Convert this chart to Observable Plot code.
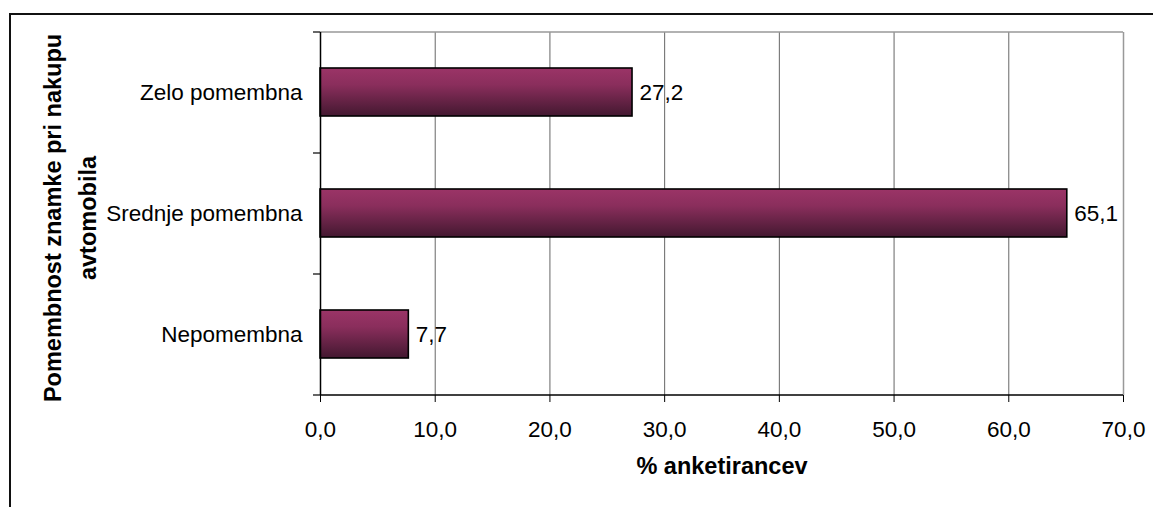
<!DOCTYPE html>
<html>
<head>
<meta charset="utf-8">
<script src="https://cdn.jsdelivr.net/npm/d3@7"></script>
<script src="https://cdn.jsdelivr.net/npm/@observablehq/plot@0.6"></script>
<style>
  html, body { margin: 0; padding: 0; background: #fff; }
  #wrap { position: relative; width: 1153px; height: 507px; overflow: hidden; }
  #border { position: absolute; left: 9px; top: 13px; right: -4px; bottom: -4px;
            border-top: 2px solid #111; border-left: 2px solid #111; pointer-events: none; }
  #chart svg { display: block; }
</style>
</head>
<body>
<div id="wrap"><div id="chart"></div><div id="border"></div></div>
<script>
// Importance of the car brand when buying a car (% of respondents)
const categories = ["Zelo pomembna", "Srednje pomembna", "Nepomembna"];
const values = [27.2, 65.1, 7.7];
const xTicks = [0, 10, 20, 30, 40, 50, 60, 70];
const gridTicks = [10, 20, 30, 40, 50, 60];
const yTitle = "Pomembnost znamke pri nakupu\navtomobila";
const xTitle = "% anketirancev";

const rows = categories.map((category, i) => ({category, value: values[i]}));
const fmt = (v) => v.toFixed(1).replace(".", ",");

const W = 1153, H = 507;
const mTop = 32, mRight = 30, mBottom = 112, mLeft = 320;
const step = (H - mTop - mBottom) / categories.length;
const tickLen = 7 * 70 / (W - mLeft - mRight); // 7px expressed in x units

// vertical gradient used for the bars
const gradientDefs = () => {
  const ns = "http://www.w3.org/2000/svg";
  const defs = document.createElementNS(ns, "defs");
  const lg = document.createElementNS(ns, "linearGradient");
  lg.setAttribute("id", "barFill");
  lg.setAttribute("x1", "0"); lg.setAttribute("y1", "0");
  lg.setAttribute("x2", "0"); lg.setAttribute("y2", "1");
  [[0, "#9b3467"], [0.35, "#8a2e5c"], [1, "#431830"]].forEach(([o, c]) => {
    const s = document.createElementNS(ns, "stop");
    s.setAttribute("offset", o);
    s.setAttribute("stop-color", c);
    lg.appendChild(s);
  });
  defs.appendChild(lg);
  return defs;
};

const chart = Plot.plot({
  width: W,
  height: H,
  marginTop: mTop,
  marginRight: mRight,
  marginBottom: mBottom,
  marginLeft: mLeft,
  style: {fontFamily: "Arial, 'Liberation Sans', sans-serif", fontSize: "22.5px", color: "#000", background: "transparent", overflow: "visible"},
  x: {domain: [0, 70], ticks: xTicks, tickFormat: fmt, tickSize: 7, tickPadding: 19, label: null},
  y: {domain: categories, paddingInner: 0.6, paddingOuter: 0.3, tickSize: 0, tickPadding: 18, label: null},
  marks: [
    gradientDefs,
    // grid
    Plot.ruleX(gridTicks, {stroke: "#666", strokeWidth: 1}),
    Plot.ruleX([70], {stroke: "#999", strokeWidth: 1.5}),
    Plot.ruleY([categories[0]], {x1: 0, x2: 70, dy: -step / 2, stroke: "#999", strokeWidth: 1.5}),
    // bars
    Plot.barX(rows, {x: "value", y: "category", fill: "url(#barFill)", stroke: "#000", strokeWidth: 1.6}),
    Plot.text(rows, {x: "value", y: "category", text: (d) => fmt(d.value), textAnchor: "start", dx: 7, fontSize: 22.5, fill: "#000"}),
    // axis lines and category boundary ticks
    Plot.ruleX([0], {stroke: "#000", strokeWidth: 1.5}),
    Plot.ruleY([categories[categories.length - 1]], {x1: 0, x2: 70, dy: step / 2, stroke: "#000", strokeWidth: 1.5}),
    Plot.ruleY(categories, {x1: -tickLen, x2: 0, dy: step / 2, stroke: "#000", strokeWidth: 1.2}),
    Plot.ruleY([categories[0]], {x1: -tickLen, x2: 0, dy: -step / 2, stroke: "#000", strokeWidth: 1.2}),
    // axis titles
    Plot.text([yTitle], {frameAnchor: "left", textAnchor: "middle", rotate: -90, dx: -253, dy: 4, fontWeight: "bold", fontSize: 23.5, lineHeight: 1.49, fill: "#000"}),
    Plot.text([xTitle], {frameAnchor: "bottom", dy: 78, fontWeight: "bold", fontSize: 23.5, fill: "#000"})
  ]
});

document.getElementById("chart").appendChild(chart);
</script>
</body>
</html>
